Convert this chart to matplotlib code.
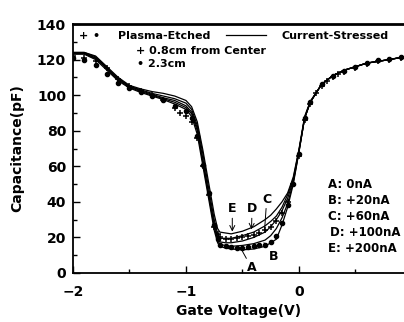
import matplotlib
matplotlib.use("Agg")
import matplotlib.pyplot as plt
from matplotlib.ticker import MultipleLocator

plt.rcParams['font.family'] = ['DejaVu Sans']
plt.rcParams['font.weight'] = 'bold'

# gate voltage grid shared by the current-stressed curves (V)
v_line = [-2.0, -1.9, -1.8, -1.7, -1.6, -1.5, -1.4, -1.3, -1.2, -1.1, -1.0,
          -0.95, -0.9, -0.85, -0.8, -0.75, -0.72, -0.7, -0.65, -0.6, -0.5,
          -0.4, -0.3, -0.25, -0.2, -0.15, -0.1, -0.05, 0.0, 0.05, 0.1, 0.2,
          0.3, 0.4, 0.5, 0.6, 0.7, 0.8, 0.93]

# current-stressed capacitance (pF), A: 0nA ... E: +200nA
cap_A = [123, 123, 120, 114, 108, 104, 101.5, 99.5, 97.5, 95, 92,
         88, 78, 60, 42, 24, 17, 15, 14, 13.5, 13,
         13.5, 15, 17, 19, 27, 37, 50, 68, 87, 96, 106,
         111, 114, 116, 118, 119, 120, 121.5]
cap_B = [123.5, 123.5, 120.5, 115, 108.5, 104.5, 102, 100, 98, 96, 93,
         89.5, 80, 62, 44, 26, 18.5, 16, 15.5, 15, 15.5,
         16.5, 18.5, 21, 25, 31, 39, 51, 68, 87, 96, 106,
         111, 114, 116, 118, 119, 120, 121.5]
cap_C = [123.5, 123.5, 121, 115, 109, 105, 102.5, 100.5, 98.5, 97, 94,
         90.5, 81.5, 64, 45, 28, 20, 17.5, 17, 17, 18,
         20, 23, 26, 30, 35, 42, 52, 68.5, 87, 96, 106,
         111, 114, 116, 118, 119, 120, 121.5]
cap_D = [124, 124, 121.5, 115.5, 109.5, 105, 103, 101, 99.5, 98, 95.5,
         92, 83, 67, 48, 30, 22, 19.5, 19.5, 19.5, 21,
         23, 26.5, 29, 32, 37, 44, 53, 69, 87, 96, 106,
         111, 114, 116, 118, 119, 120, 121.5]
cap_E = [124, 124, 122, 116, 110, 105.5, 103.5, 102, 101, 99.5, 97,
         93.5, 85, 69, 51, 33, 25, 23, 22.5, 22, 23.5,
         26, 30, 32.5, 36, 40, 45, 54, 69.5, 88, 96.5, 106,
         111, 114, 116, 118, 119, 120, 121.5]

# plasma-etched data, 0.8cm from center ('+')
v_plus = [-2.0, -1.9, -1.8, -1.7, -1.6, -1.5, -1.4, -1.3, -1.2, -1.1, -1.05,
          -1.0, -0.95, -0.9, -0.85, -0.8, -0.75, -0.72, -0.7, -0.65, -0.6,
          -0.55, -0.5, -0.45, -0.4, -0.35, -0.3, -0.25, -0.2, -0.15, -0.1,
          -0.05, 0.0, 0.05, 0.1, 0.15, 0.2, 0.25, 0.3, 0.35, 0.4, 0.5, 0.6,
          0.7, 0.8, 0.9]
cap_plus = [122, 121, 119, 115, 109, 105, 102.5, 100, 97, 93, 90,
            88, 85, 76, 60, 44, 26, 22, 20, 19, 19,
            19.5, 20, 21, 21.5, 22.5, 24, 26, 29, 34, 40,
            50, 66, 86, 95, 101, 105, 108, 110, 112, 113, 115.5, 117.5,
            119, 120, 121]

# plasma-etched data, 2.3cm ('•')
v_dot = [-2.0, -1.9, -1.8, -1.7, -1.6, -1.5, -1.4, -1.3, -1.2, -1.1, -1.0,
         -0.95, -0.9, -0.85, -0.8, -0.75, -0.72, -0.7, -0.65, -0.6, -0.55,
         -0.5, -0.45, -0.4, -0.35, -0.3, -0.25, -0.2, -0.15, -0.1, -0.05,
         0.0, 0.05, 0.1, 0.2, 0.3, 0.4, 0.5, 0.6, 0.7, 0.8, 0.9]
cap_dot = [121, 120, 117, 112, 107, 104, 102, 99.5, 97, 94, 91,
           87, 77, 61, 45, 27, 19, 16, 15, 14.5, 14,
           14, 14.5, 15, 15.5, 16, 17.5, 21, 28, 38, 50,
           67, 87, 96, 106, 111, 113.5, 116, 118, 119.5, 120.5, 121.5]

stress_labels = ['A: 0nA', 'B: +20nA', 'C: +60nA', 'D: +100nA', 'E: +200nA']

W, H = 404, 322
fig = plt.figure(figsize=(W / 100, H / 100), dpi=100)


def fx(px):
    return px / W


def fy(py):
    return 1 - py / H


ax = fig.add_axes([fx(73), fy(273), 1 - fx(73), fy(24) - fy(273)])

for c in [cap_A, cap_B, cap_C, cap_D, cap_E]:
    ax.plot(v_line, c, color='black', lw=0.9)
ax.plot(v_plus, cap_plus, '+', color='black', ms=5, mew=1.1)
ax.plot(v_dot, cap_dot, 'o', color='black', ms=3.0)

ax.set_xlim(-2, 0.93)
ax.set_ylim(0, 140)
ax.xaxis.set_major_locator(MultipleLocator(1))
ax.xaxis.set_minor_locator(MultipleLocator(0.5))
ax.yaxis.set_major_locator(MultipleLocator(20))
ax.yaxis.set_minor_locator(MultipleLocator(10))
ax.tick_params(which='both', direction='in', top=False, right=False,
               labelsize=10, width=1.0)
ax.tick_params(which='major', length=5)
ax.tick_params(which='minor', length=3)
ax.tick_params(axis='x', which='major', pad=9)
ax.tick_params(axis='y', which='major', pad=5)
for lab in ax.get_xticklabels() + ax.get_yticklabels():
    lab.set_fontweight('bold')
ax.spines['right'].set_visible(False)
ax.spines['top'].set_linewidth(2.0)
ax.spines['left'].set_linewidth(1.3)
ax.spines['bottom'].set_linewidth(1.3)

ax.set_xlabel('Gate Voltage(V)', fontsize=10, fontweight='bold', labelpad=3)
ax.set_ylabel('Capacitance(pF)', fontsize=10, fontweight='bold', labelpad=9)

# legend drawn by hand
fs = 8
fig.text(fx(79), fy(36), '+', fontsize=fs, va='center', ha='left')
fig.text(fx(92), fy(36), '\u2022', fontsize=fs, va='center', ha='left')
fig.text(fx(118), fy(36), 'Plasma-Etched', fontsize=fs, va='center', ha='left')
fig.add_artist(plt.Line2D([fx(226), fx(266)], [fy(35), fy(35)], color='black', lw=0.9))
fig.text(fx(282), fy(36), 'Current-Stressed', fontsize=fs, va='center', ha='left')
fig.text(fx(136), fy(51), '+ 0.8cm from Center', fontsize=fs, va='center', ha='left')
fig.text(fx(137), fy(64), '\u2022 2.3cm', fontsize=fs, va='center', ha='left')

ys = [184, 201, 217, 233, 249]
for i, s in enumerate(stress_labels):
    x0 = 330 if s.startswith('D') else 328
    fig.text(fx(x0), fy(ys[i]), s, fontsize=8.5, va='center', ha='left')

# curve labels with pointers
arrow = dict(arrowstyle='->', color='black', lw=0.7, shrinkA=0, shrinkB=0)
plain = dict(arrowstyle='-', color='black', lw=0.7, shrinkA=0, shrinkB=0)
ax.annotate('E', xy=(-0.59, 23.3), xytext=(-0.59, 36), fontsize=9,
            ha='center', va='center', arrowprops=arrow)
ax.annotate('D', xy=(-0.42, 24.5), xytext=(-0.415, 36), fontsize=9,
            ha='center', va='center', arrowprops=arrow)
ax.annotate('C', xy=(-0.305, 23.5), xytext=(-0.285, 41.5), fontsize=9,
            ha='center', va='center', arrowprops=plain)
ax.annotate('A', xy=(-0.5, 12.2), xytext=(-0.42, 3), fontsize=9,
            ha='center', va='center', arrowprops=plain)
ax.annotate('B', xy=(-0.31, 17), xytext=(-0.22, 9.5), fontsize=9,
            ha='center', va='center', arrowprops=plain)

fig.savefig('out.png', dpi=100)
